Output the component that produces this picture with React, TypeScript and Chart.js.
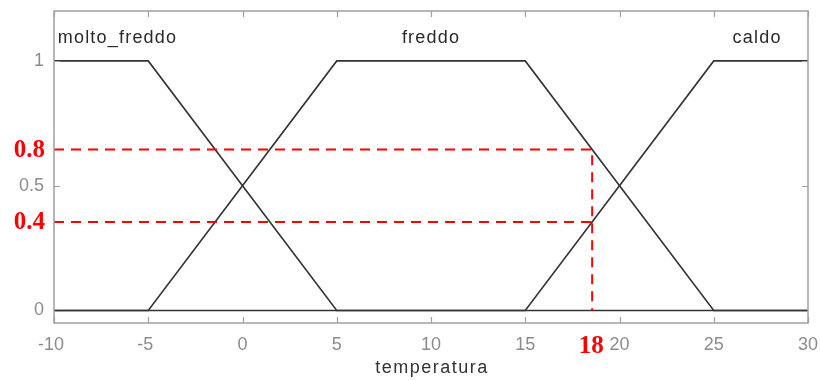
import React, { useEffect, useRef } from "react";
import { Chart, registerables } from "chart.js";

Chart.register(...registerables);

// Membership functions (breakpoints)
const moltoX = [-10, -5, 5, 30];
const moltoY = [1, 1, 0, 0];
const freddoX = [-10, -5, 5, 15, 25, 30];
const freddoY = [0, 0, 1, 1, 0, 0];
const caldoX = [-10, 15, 25, 30];
const caldoY = [0, 0, 1, 1];

const setNames = ["molto_freddo", "freddo", "caldo"];
const setLabelX = [-9.8, 10, 27.3];
const setLabelAlign: CanvasTextAlign[] = ["left", "center", "center"];

const xTicks = [-10, -5, 0, 5, 10, 15, 20, 25, 30];
const yTicks = [0, 0.5, 1];
const xTitle = "temperatura";

// Crisp input & resulting membership degrees (as drawn), with their printed labels
const inputValue = 18.55;
const inputLabel = "18";
const degrees = [0.645, 0.355];
const degreeLabels = ["0.8", "0.4"];

const xMin = -10;
const xMax = 30;
const yMin = -0.05;
const yMax = 1.2;

const toPts = (xs: number[], ys: number[]) => xs.map((x, i) => ({ x, y: ys[i] }));

export default function App() {
  const ref = useRef<HTMLCanvasElement | null>(null);

  useEffect(() => {
    if (!ref.current) return;
    const gray = "#8c8c8c";
    const curve = "#333333";

    const overlay = {
      id: "matlabFrame",
      afterDatasetsDraw(chart: any) {
        const ctx = chart.ctx;
        const a = chart.chartArea;
        const xs = chart.scales.x;
        const ys = chart.scales.y;
        ctx.save();
        // frame
        ctx.strokeStyle = "#a0a0a0";
        ctx.lineWidth = 1.5;
        ctx.strokeRect(a.left, a.top, a.right - a.left, a.bottom - a.top);
        // ticks
        ctx.lineWidth = 1.2;
        ctx.beginPath();
        xTicks.forEach((t) => {
          const px = Math.round(xs.getPixelForValue(t)) + 0.5;
          ctx.moveTo(px, a.bottom);
          ctx.lineTo(px, a.bottom - 6);
          ctx.moveTo(px, a.top);
          ctx.lineTo(px, a.top + 6);
        });
        yTicks.forEach((t) => {
          const py = Math.round(ys.getPixelForValue(t)) + 0.5;
          ctx.moveTo(a.left, py);
          ctx.lineTo(a.left + 6, py);
          ctx.moveTo(a.right, py);
          ctx.lineTo(a.right - 6, py);
        });
        ctx.stroke();

        // tick labels
        ctx.fillStyle = gray;
        ctx.font = "18px 'Liberation Sans', Arial, sans-serif";
        ctx.textAlign = "center";
        ctx.textBaseline = "middle";
        xTicks.forEach((t) => {
          ctx.fillText(String(t), xs.getPixelForValue(t) - (t < 0 ? 3 : 0), a.bottom + 22);
        });
        ctx.textAlign = "right";
        yTicks.forEach((t) => {
          ctx.fillText(String(t), a.left - 10, ys.getPixelForValue(t));
        });

        // axis title
        ctx.fillStyle = "#333";
        ctx.textAlign = "center";
        (ctx as any).letterSpacing = "1.5px";
        ctx.fillText(xTitle, (a.left + a.right) / 2 + 1, a.bottom + 45);

        // set names
        ctx.fillStyle = "#2a2a2a";
        (ctx as any).letterSpacing = "1.2px";
        setNames.forEach((n, i) => {
          ctx.textAlign = setLabelAlign[i];
          ctx.fillText(n, xs.getPixelForValue(setLabelX[i]), a.top + 27);
        });
        (ctx as any).letterSpacing = "0px";

        // red annotations
        ctx.fillStyle = "#ff0000";
        ctx.font = "bold 25px 'Liberation Serif', 'Times New Roman', serif";
        ctx.textAlign = "right";
        degrees.forEach((d, i) => {
          ctx.fillText(degreeLabels[i], a.left - 9, ys.getPixelForValue(d) + 1);
        });
        ctx.textAlign = "center";
        ctx.fillText(inputLabel, xs.getPixelForValue(inputValue) - 1, a.bottom + 24);
        ctx.restore();
      },
    };

    const base = { pointRadius: 0, tension: 0, fill: false, showLine: true };
    const chart = new Chart(ref.current, {
      type: "scatter",
      data: {
        datasets: [
          { ...base, label: "level 1", data: [{ x: xMin, y: degrees[0] }, { x: inputValue, y: degrees[0] }, { x: inputValue, y: 0 }], borderColor: "#ff0000", borderWidth: 2, borderDash: [10, 7] },
          { ...base, label: "level 2", data: [{ x: xMin, y: degrees[1] }, { x: inputValue, y: degrees[1] }], borderColor: "#ff0000", borderWidth: 2, borderDash: [10, 7] },
          { ...base, label: setNames[0], data: toPts(moltoX, moltoY), borderColor: curve, borderWidth: 1.6 },
          { ...base, label: setNames[1], data: toPts(freddoX, freddoY), borderColor: curve, borderWidth: 1.6 },
          { ...base, label: setNames[2], data: toPts(caldoX, caldoY), borderColor: curve, borderWidth: 1.6 },
        ],
      },
      options: {
        responsive: false,
        animation: false,
        layout: { padding: { left: 54, top: 11, right: 12, bottom: 58 } },
        plugins: { legend: { display: false }, tooltip: { enabled: false } },
        scales: {
          x: { type: "linear", min: xMin, max: xMax, display: false },
          y: { type: "linear", min: yMin, max: yMax, display: false },
        },
      },
      plugins: [overlay],
    });
    return () => chart.destroy();
  }, []);

  return (
    <div style={{ position: "absolute", left: 0, top: 0, width: 820, height: 381, background: "#fff" }}>
      <canvas ref={ref} width={820} height={381} />
    </div>
  );
}
